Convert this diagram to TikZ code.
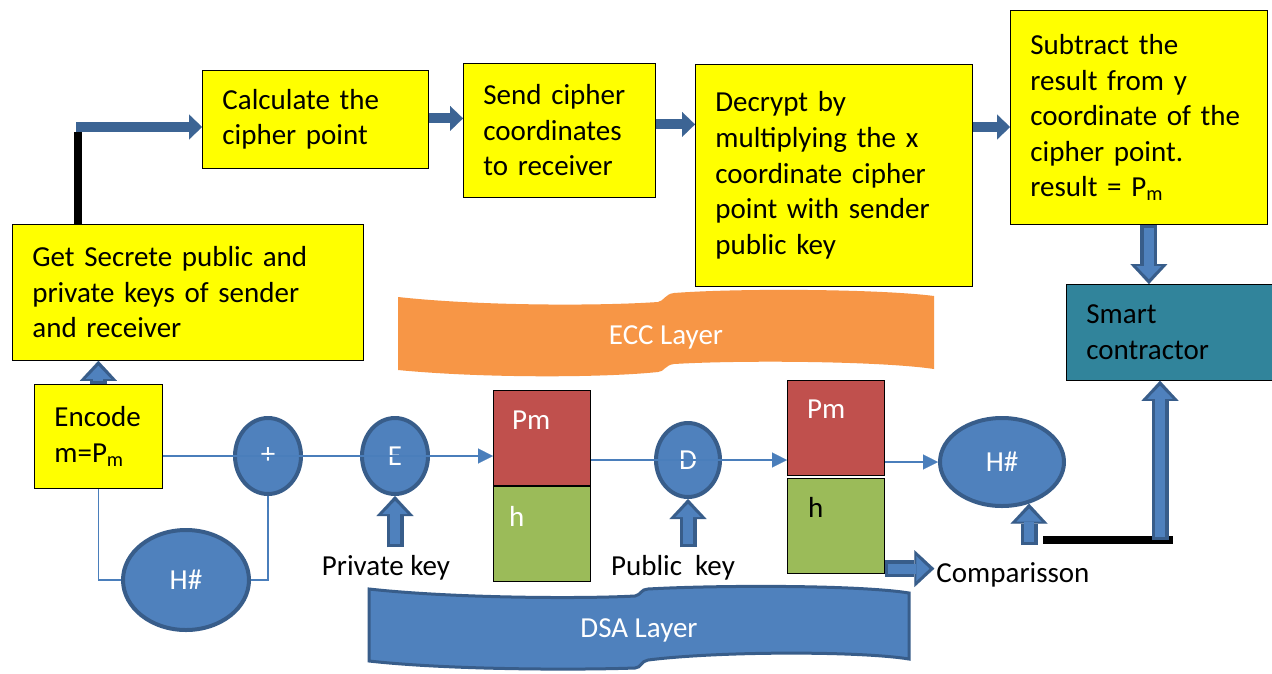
\documentclass[tikz,border=0pt]{standalone}
\usepackage{fontspec}
\setmainfont{Carlito}
\usepackage{tikz}
\usetikzlibrary{positioning, arrows.meta, shapes.geometric, calc}

\definecolor{boxyellow}{HTML}{FFFF00}
\definecolor{boxteal}{HTML}{31849B}
\definecolor{blobfill}{HTML}{4F81BD}
\definecolor{blobline}{HTML}{385D8A}
\definecolor{wireblue}{HTML}{4A7EBB}
\definecolor{flowblue}{HTML}{3C6494}
\definecolor{cellred}{HTML}{C0504D}
\definecolor{cellgreen}{HTML}{9BBB59}
\definecolor{layerorange}{HTML}{F79646}

\newcommand{\bodyfont}{\fontsize{29}{35.6}\selectfont}

\tikzset{
    stepbox/.style={draw=black, line width=0.8pt, fill=boxyellow, anchor=north west,
        align=left, inner xsep=20pt, inner ysep=0pt, font=\bodyfont},
    cell/.style={draw=black, line width=0.8pt, minimum width=97pt, minimum height=95pt,
        inner sep=0pt, anchor=north west},
    celltext/.style={anchor=west, inner sep=0pt, font=\bodyfont},
    blob/.style={ellipse, draw=blobline, line width=4pt, fill=blobfill, text=white,
        inner sep=0pt, font=\fontsize{29}{30}\selectfont},
    plaintext/.style={inner sep=2pt, font=\bodyfont},
    wire/.style={draw=wireblue, line width=1.5pt},
    tip/.style={-{Triangle[length=15pt,width=15pt,line width=0.1pt]}},
    flow/.style={draw=flowblue, line width=10pt, -{Triangle[length=13pt,width=25pt,line width=0.1pt]}},
    hollow/.style={draw=blobfill, line width=10pt, shorten <=3.5pt, shorten >=5pt,
        -{Triangle[length=13pt,width=25pt,line width=0.1pt]},
        preaction={draw=blobline, line width=17pt, shorten <=0pt, shorten >=0pt,
        -{Triangle[length=20pt,width=37pt,line width=0.1pt]}}},
    blackbar/.style={draw=black, line width=7.5pt}
}

\begin{document}
\begin{tikzpicture}[x=1pt,y=-1pt]
    \path[use as bounding box, fill=white] (0,0) rectangle (1272,673);

    % layer banners
    \fill[layerorange] (398,297) .. controls (480,306) and (600,306) .. (658,302)
        .. controls (664,301) and (665,294) .. (674,293)
        .. controls (740,288) and (880,289) .. (934,296) -- (934,369)
        .. controls (880,361) and (740,360) .. (674,364)
        .. controls (665,365) and (664,372) .. (658,372)
        .. controls (600,378) and (480,378) .. (398,370) -- cycle;
    \node[plaintext, text=white] (ecc) at (666,337) {ECC Layer};
    \filldraw[fill=blobfill, draw=blobline, line width=3pt] (369,589) .. controls (450,598) and (580,599) .. (635,596)
        .. controls (641,595) and (641,589) .. (648,589)
        .. controls (720,585) and (860,585) .. (909,593) -- (909,659)
        .. controls (860,651) and (720,651) .. (648,660)
        .. controls (641,661) and (641,668) .. (635,668)
        .. controls (580,670) and (450,670) .. (369,661) -- cycle;
    \node[plaintext, text=white] (dsa) at (639,630) {DSA Layer};

    % ECC steps
    \node[stepbox, minimum width=351pt, minimum height=136pt, text width=311pt] (keys) at (12,224)
        {Get Secrete public and\\private keys of sender\\and receiver};
    \node[stepbox, minimum width=226pt, minimum height=98pt, text width=186pt] (calc) at (202,70)
        {Calculate the\\cipher point};
    \node[stepbox, minimum width=192pt, minimum height=134pt, text width=152pt] (send) at (463,63)
        {Send cipher\\coordinates\\to receiver};
    \node[stepbox, minimum width=277pt, minimum height=222pt, text width=237pt] (decrypt) at (695,64)
        {Decrypt by\\multiplying the x\\coordinate cipher\\point with sender\\public key\\[-12pt]};
    \node[stepbox, minimum width=257pt, minimum height=214pt, text width=217pt] (subtract) at (1010,10)
        {Subtract the\\result from y\\coordinate of the\\cipher point.\\result = P\textsubscript{m}\\[-18pt]};
    \node[stepbox, fill=boxteal, minimum width=206pt, minimum height=96pt, text width=166pt] (smart) at (1066,284)
        {Smart\\contractor};
    \node[stepbox, minimum width=128pt, minimum height=104pt, text width=88pt] (encode) at (34,384)
        {Encode\\m=P\textsubscript{m}};

    % DSA blocks
    \node[cell, fill=cellred] (pmA) at (493,390) {};
    \node[cell, fill=cellgreen, below=0pt of pmA] (hA) {};
    \node[cell, fill=cellred] (pmB) at (787,380) {};
    \node[cell, fill=cellgreen, below=2pt of pmB] (hB) {};
    \node[celltext, text=white] (pmAtext) at ([shift={(19pt,-30pt)}]pmA.north west) {Pm};
    \node[celltext, text=white] (hAtext) at ([shift={(16pt,-31pt)}]hA.north west) {h};
    \node[celltext, text=white] (pmBtext) at ([shift={(20pt,-29pt)}]pmB.north west) {Pm};
    \node[celltext] (hBtext) at ([shift={(21pt,-30pt)}]hB.north west) {h};

    \node[blob, minimum width=66pt, minimum height=76pt] (plus) at (268,456) {+};
    \node[blob, minimum width=66pt, minimum height=76pt] (encr) at (395,456) {E};
    \node[blob, minimum width=64pt, minimum height=74pt] (decr) at (688,460) {D};
    \node[blob, minimum width=124pt, minimum height=88pt] (hashR) at (1002,462) {H\#};
    \node[blob, minimum width=126pt, minimum height=100pt] (hashL) at (186,580) {H\#};

    \node[plaintext] (privkey) at (386,568) {Private key};
    \node[plaintext] (pubkey) at (673,568) {Public\ \ key};
    \node[plaintext] (compare) at (1013,575) {Comparisson};

    % thin links
    \draw[wire, tip] (encode.east |- plus) -- (plus.center) -- (encr.center) -- (pmA.west |- encr);
    \draw[wire, tip] (pmA.east |- decr) -- (decr.center) -- (pmB.west |- decr);
    \draw[wire, tip] (pmB.east |- hashR) -- (hashR.west);
    \draw[wire] (encode.south) |- (hashL.west);
    \draw[wire] (hashL.east) -| (plus.south);

    % top flow
    \coordinate (turn) at (78,127);
    \draw[blackbar] ([yshift=-5pt]turn) -- (turn |- keys.north);
    \draw[flow] ([xshift=-2pt]turn) -- (calc.west |- turn);
    \draw[flow] ([yshift=1pt]calc.east) -- ([yshift=1pt]calc.east -| send.west);
    \draw[flow] ([yshift=6pt]send.east) -- ([yshift=6pt]send.east -| decrypt.west);
    \draw[flow] ([yshift=-63pt]decrypt.north east) -- ([yshift=-63pt]decrypt.north east -| subtract.west);

    % block arrows
    \coordinate (barL) at (1043,540);
    \coordinate (barR) at (1173,540);
    \coordinate (lift) at (1160,540);
    \draw[blackbar] (barL) -- (barR);
    \draw[hollow] (encode.north) -- (encode.north |- keys.south);
    \draw[hollow] ([yshift=6pt]encr.south |- privkey.north) -- (encr.south);
    \draw[hollow] ([yshift=6pt]decr.south |- pubkey.north) -- (decr.south);
    \draw[hollow] ([yshift=-5pt]hashR.-57 |- barL) -- (hashR.-57);
    \draw[hollow] (lift) -- (lift |- smart.south);
    \draw[hollow] ([xshift=10pt]subtract.south) -- ([xshift=10pt]subtract.south |- smart.north);
    \draw[hollow] ([yshift=5pt]hB.south east) -- ([yshift=5pt]hB.south east -| compare.west);
\end{tikzpicture}
\end{document}
